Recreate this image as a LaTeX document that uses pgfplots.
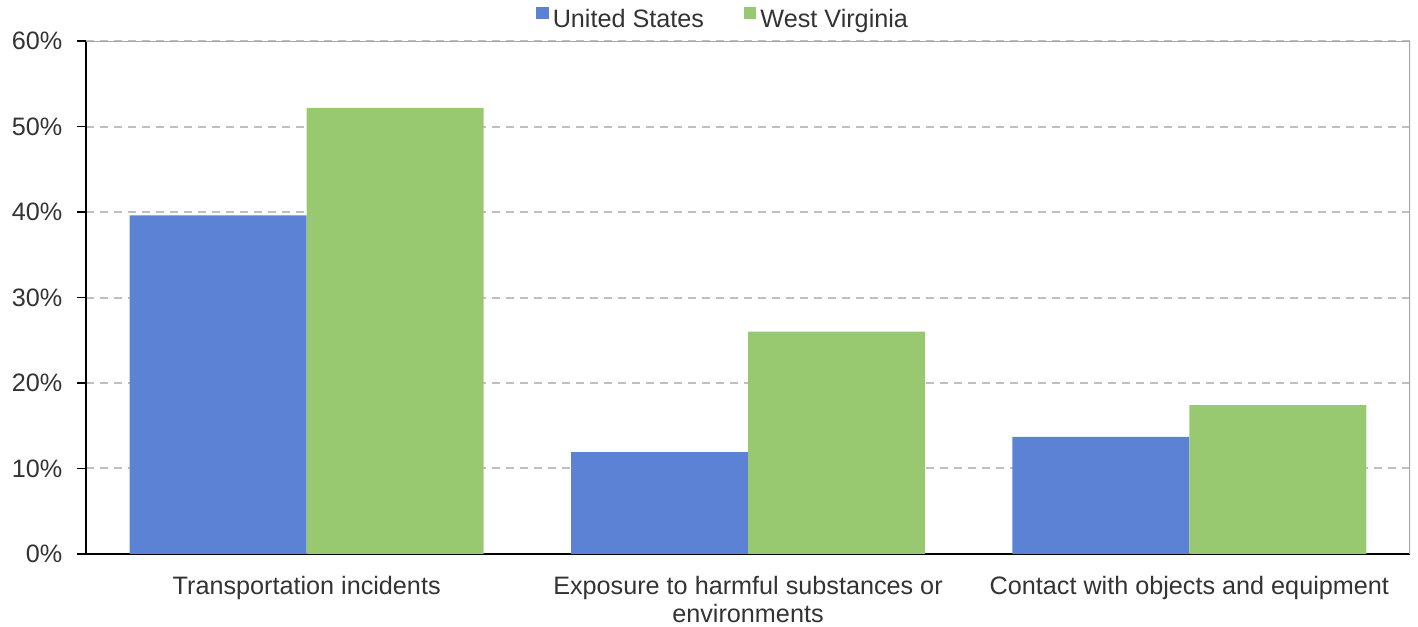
\documentclass[border=0pt]{standalone}
\usepackage{fontspec}
\setmainfont{Liberation Sans}
\usepackage{pgfplots}
\pgfplotsset{compat=1.18}
\definecolor{usblue}{HTML}{5B82D4}
\definecolor{wvgreen}{HTML}{98C971}
\definecolor{txt}{HTML}{333333}
\begin{document}
\fontsize{12.6}{15}\selectfont
\begin{tikzpicture}
\path[use as bounding box] (-43pt,-36.2pt) rectangle (666pt,276.9pt);
\begin{axis}[
    at={(0,0)}, anchor=south west,
    scale only axis,
    width=662pt, height=256.3pt,
    ybar=0pt, bar width=88.5pt,
    xmin=-0.5, xmax=2.5,
    ymin=0, ymax=60,
    xtick={0,1,2},
    xticklabels={Transportation incidents, Exposure to harmful substances or\\environments, Contact with objects and equipment},
    x tick label style={align=center, text=txt, yshift=-2.5pt, font=\fontsize{12.6}{14}\selectfont},
    major x tick style={draw=none},
    ytick={0,10,...,60},
    yticklabel={\pgfmathprintnumber{\tick}\%},
    y tick label style={text=txt, xshift=-3pt},
    /pgf/number format/assume math mode=true,
    tick align=outside,
    major tick length=4.5pt,
    ytick style={black, line width=0.8pt},
    axis x line*=bottom, axis y line*=left,
    axis line style={black, line width=1pt, -},
    ymajorgrids,
    grid style={gray!50, line width=1pt, dash pattern=on 4pt off 3pt},
    legend columns=2,
    legend style={draw=none, fill=none, at={(0.482,1)}, anchor=south, yshift=1pt,
        font=\fontsize{12.6}{15}\selectfont, text=txt,
        /tikz/every even column/.append style={column sep=18pt}},
    legend image code/.code={\fill[#1] (0pt,0.5pt) rectangle (6.2pt,6.5pt);},
]
\addplot[draw=none, fill=usblue] coordinates {(0,39.6) (1,11.9) (2,13.7)};
\addplot[draw=none, fill=wvgreen] coordinates {(0,52.2) (1,26.0) (2,17.4)};
\legend{United States, West Virginia}
\draw[gray!70, line width=0.8pt] (rel axis cs:0,1) -- (rel axis cs:1,1) -- (rel axis cs:1,0);
\end{axis}
\end{tikzpicture}
\end{document}
